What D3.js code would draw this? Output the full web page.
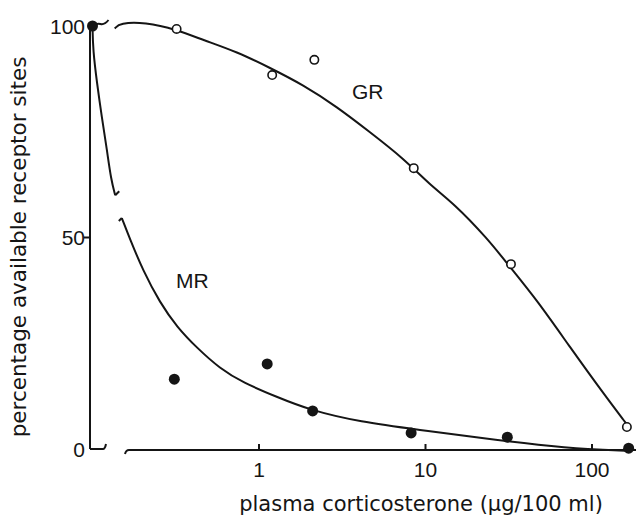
<!DOCTYPE html>
<html>
<head>
<meta charset="utf-8">
<script src="https://cdn.jsdelivr.net/npm/d3@7"></script>
<style>
  html, body { margin: 0; padding: 0; background: #ffffff; }
  svg { display: block; }
</style>
</head>
<body>
<svg id="chart" width="636" height="516"></svg>
<script>
// ---------- data ----------
const doseTicks = [1, 10, 100];
const doseTickLabels = ["1", "10", "100"];
const valueTicks = [0, 50, 100];
const valueTickLabels = ["0", "50", "100"];

// control (no corticosterone) plotted at the left end of the broken axis
const controlDose = 0.1;
const controlValue = 100;

// GR (open circles)
const grDoses  = [0.32, 1.2, 2.15, 8.5, 32.6, 162];
const grValues = [99.3, 88.4, 92.0, 66.4, 43.7, 5.2];

// MR (filled circles)
const mrDoses  = [0.31, 1.12, 2.1, 8.2, 31, 166];
const mrValues = [16.5, 20.1, 9.0, 3.8, 2.8, 0.2];

// fitted curves
const grFitDoses  = [0.136, 0.146, 0.206, 0.322, 0.461, 0.738, 1.164, 1.838, 2.94, 4.64, 7.33, 10.65, 14.65, 23.4, 32.2, 46.7, 73.7, 116.7, 162];
const grFitValues = [99.4, 100.7, 100.9, 99.1, 96.7, 93.9, 90.1, 86.1, 80.9, 74.9, 68.8, 62.4, 58.2, 49.9, 43.0, 35.2, 24.1, 13.2, 5.8];

const mrFit1Doses  = [0.1, 0.1007, 0.1064, 0.1137, 0.1221, 0.1294, 0.1369];
const mrFit1Values = [100, 94.3, 86.5, 78.5, 70.7, 63.6, 60.0];

const mrFit2Doses  = [0.150, 0.168, 0.201, 0.254, 0.322, 0.424, 0.583, 0.80, 1.28, 2.02, 4.04, 9.27, 21.3, 48.6, 97.9, 158];
const mrFit2Values = [54.6, 49.6, 42.2, 34.6, 28.8, 23.9, 19.0, 15.7, 12.3, 9.2, 6.4, 4.5, 2.6, 0.9, -0.1, -0.4];

const seriesLabels = ["GR", "MR"];
const labelDoses   = [3.62, 0.317];
const labelValues  = [82.7, 38.1];

const xTitle = "plasma corticosterone (\u03bcg/100 ml)";
const yTitle = "percentage available receptor sites";

// ---------- drawing ----------
const ink = "#151515";
const svg = d3.select("#chart");

const x = d3.scaleLog().domain([1, 100]).range([259, 592]);
const y = d3.scaleLinear().domain([0, 100]).range([449, 26]);

const axisLeft = x(controlDose) - 2.5;
const axisBreakStart = 128;

// y axis line
svg.append("line")
  .attr("x1", axisLeft).attr("x2", axisLeft)
  .attr("y1", y(100)).attr("y2", y(0))
  .attr("stroke", ink).attr("stroke-width", 2);

// short x-axis piece at the corner with break hook
svg.append("path")
  .attr("d", `M${axisLeft},${y(0)} L${axisLeft + 13},${y(0)} q2,0 3,-5`)
  .attr("fill", "none").attr("stroke", ink).attr("stroke-width", 2);

// main x-axis with break hook
const xAxisY = y(0) + 1;
svg.append("path")
  .attr("d", `M${axisBreakStart - 3},${xAxisY + 4} q1,-4 4,-4 L636,${xAxisY}`)
  .attr("fill", "none").attr("stroke", ink).attr("stroke-width", 2);

// y ticks
svg.selectAll(".ytick").data(valueTicks.filter(v => v !== 0 && v !== 100)).enter()
  .append("line")
  .attr("x1", axisLeft - 6).attr("x2", axisLeft)
  .attr("y1", d => y(d)).attr("y2", d => y(d))
  .attr("stroke", ink).attr("stroke-width", 2);

svg.selectAll(".ylab").data(valueTicks).enter()
  .append("text")
  .attr("x", 85)
  .attr("y", d => y(d))
  .attr("dy", "0.36em")
  .attr("text-anchor", "end")
  .attr("font-family", "Liberation Sans, Arial, sans-serif")
  .attr("font-size", 21)
  .attr("fill", ink)
  .text((d, i) => valueTickLabels[i]);

// x ticks
svg.selectAll(".xtick").data(doseTicks).enter()
  .append("line")
  .attr("x1", d => x(d)).attr("x2", d => x(d))
  .attr("y1", xAxisY).attr("y2", xAxisY - 6)
  .attr("stroke", ink).attr("stroke-width", 2);

svg.selectAll(".xlab").data(doseTicks).enter()
  .append("text")
  .attr("x", d => x(d))
  .attr("y", 477)
  .attr("text-anchor", "middle")
  .attr("font-family", "Liberation Sans, Arial, sans-serif")
  .attr("font-size", 21)
  .attr("fill", ink)
  .text((d, i) => doseTickLabels[i]);

// axis titles
svg.append("text")
  .attr("x", 421).attr("y", 511)
  .attr("text-anchor", "middle")
  .attr("font-family", "DejaVu Sans, sans-serif")
  .attr("font-size", 21)
  .attr("fill", ink)
  .text(xTitle);

svg.append("text")
  .attr("transform", "translate(26,247) rotate(-90)")
  .attr("text-anchor", "middle")
  .attr("font-family", "DejaVu Sans, sans-serif")
  .attr("font-size", 21.5)
  .attr("fill", ink)
  .text(yTitle);

// curves
const line = d3.line()
  .x(d => x(d[0])).y(d => y(d[1]))
  .curve(d3.curveBasis);

function drawCurve(ds, vs) {
  svg.append("path")
    .attr("d", line(ds.map((d, i) => [d, vs[i]])))
    .attr("fill", "none").attr("stroke", ink).attr("stroke-width", 2);
}
drawCurve(grFitDoses, grFitValues);
drawCurve(mrFit1Doses, mrFit1Values);
drawCurve(mrFit2Doses, mrFit2Values);

// break hooks on the curves
const m1End = [x(mrFit1Doses[mrFit1Doses.length - 1]), y(mrFit1Values[mrFit1Values.length - 1])];
svg.append("path")
  .attr("d", `M${m1End[0]},${m1End[1]} l4,-4`)
  .attr("fill", "none").attr("stroke", ink).attr("stroke-width", 2);
const m2Start = [x(mrFit2Doses[0]), y(mrFit2Values[0])];
svg.append("path")
  .attr("d", `M${m2Start[0] - 3},${m2Start[1] + 3} l3,-3`)
  .attr("fill", "none").attr("stroke", ink).attr("stroke-width", 2);

// GR tilde from the control point towards the break
const c0 = [x(controlDose), y(controlValue)];
svg.append("path")
  .attr("d", `M${c0[0]},${c0[1]} q4,-3 8,-2 q4,1 8,-4`)
  .attr("fill", "none").attr("stroke", ink).attr("stroke-width", 2);

// points
svg.selectAll(".mr").data(mrDoses.map((d, i) => [d, mrValues[i]])).enter()
  .append("circle")
  .attr("cx", d => x(d[0])).attr("cy", d => y(d[1]))
  .attr("r", 5.5).attr("fill", ink);

svg.selectAll(".gr").data(grDoses.map((d, i) => [d, grValues[i]])).enter()
  .append("circle")
  .attr("cx", d => x(d[0])).attr("cy", d => y(d[1]))
  .attr("r", 4.2).attr("fill", "#fff").attr("stroke", ink).attr("stroke-width", 1.6);

// control point (both receptors at 100 %)
svg.append("circle")
  .attr("cx", x(controlDose)).attr("cy", y(controlValue))
  .attr("r", 5.5).attr("fill", ink);

// series labels
svg.selectAll(".slab").data(seriesLabels).enter()
  .append("text")
  .attr("x", (d, i) => x(labelDoses[i]))
  .attr("y", (d, i) => y(labelValues[i]))
  .attr("font-family", "Liberation Sans, Arial, sans-serif")
  .attr("font-size", 21)
  .attr("fill", ink)
  .text(d => d);
</script>
</body>
</html>
